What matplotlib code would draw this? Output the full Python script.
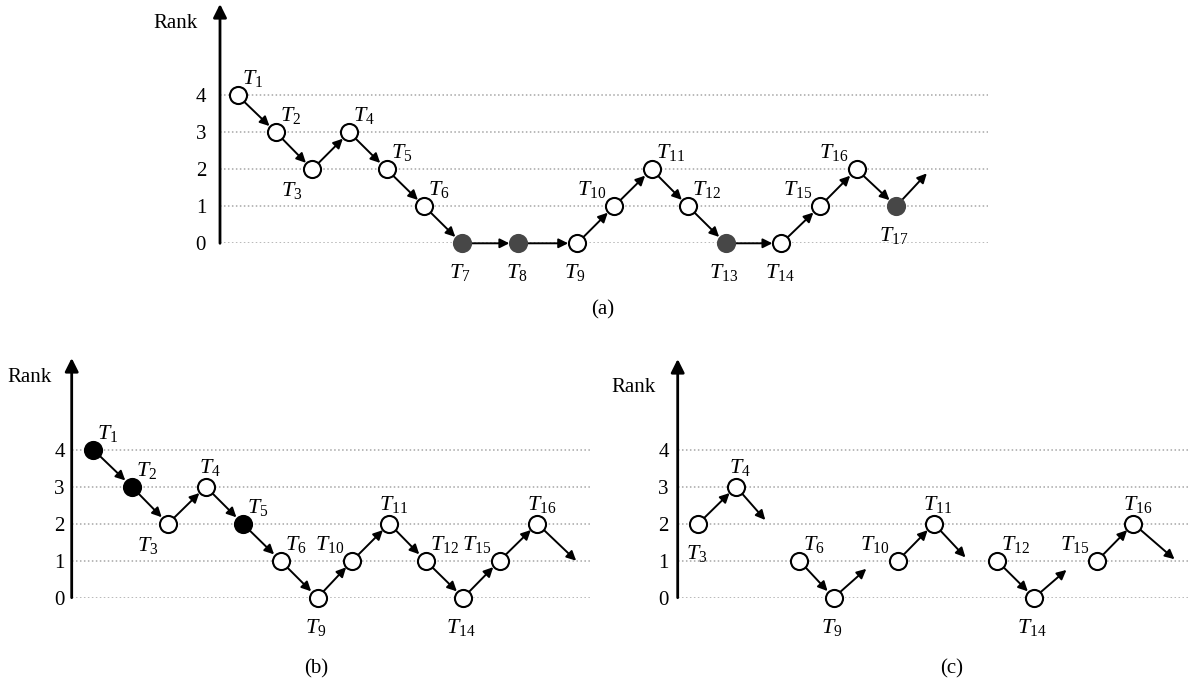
import matplotlib
matplotlib.use('Agg')
import matplotlib.pyplot as plt

# Fuente tipo Times para todo el texto
plt.rcParams['font.family'] = 'Liberation Serif'
plt.rcParams['mathtext.fontset'] = 'custom'
plt.rcParams['mathtext.rm'] = 'Liberation Serif'
plt.rcParams['mathtext.it'] = 'Liberation Serif:italic'

# ---- datos ----
rank_ticks = [0, 1, 2, 3, 4]

# (a) secuencia completa
a_ids = [1, 2, 3, 4, 5, 6, 7, 8, 9, 10, 11, 12, 13, 14, 15, 16, 17]
a_x = [0, 1.04, 2.02, 3.02, 4.03, 5.05, 6.06, 7.59, 9.18, 10.18, 11.19,
       12.18, 13.19, 14.7, 15.74, 16.73, 17.8]
a_rank = [4, 3, 2, 3, 2, 1, 0, 0, 0, 1, 2, 1, 0, 0, 1, 2, 1]
a_filled = [7, 8, 13, 17]
a_where = ['ur', 'ur', 'll', 'ur', 'ur', 'ur', 'b', 'b', 'b', 'ul', 'ur',
           'ur', 'b', 'b', 'ul', 'ul', 'b']
a_tail = (18.63, 1.89)

# (b) sin los nodos a rango 0 repetidos
b_ids = [1, 2, 3, 4, 5, 6, 9, 10, 11, 12, 14, 15, 16]
b_x = [0, 1.04, 2.02, 3.04, 4.04, 5.06, 6.06, 7.0, 8.0, 8.98, 10.0, 10.98, 12.0]
b_rank = [4, 3, 2, 3, 2, 1, 0, 1, 2, 1, 0, 1, 2]
b_filled = [1, 2, 5]
b_where = ['ur', 'ur', 'll', 'u', 'ur', 'ur', 'b', 'ul', 'u', 'ur', 'b', 'ul', 'u']
b_tail = (13.05, 1.0)

# (c) pares sueltos
c_ids = [[3, 4], [6, 9], [10, 11], [12, 14], [15, 16]]
c_x = [[0, 1.02], [2.73, 3.66], [5.39, 6.37], [8.07, 9.08], [10.78, 11.76]]
c_rank = [[2, 3], [1, 0], [1, 2], [1, 0], [1, 2]]
c_where = [['b', 'u'], ['ur', 'b'], ['ul', 'u'], ['ur', 'b'], ['ul', 'u']]
c_tail = [(1.81, 2.1), (4.54, 0.78), (7.22, 1.09), (9.95, 0.75), (12.87, 1.04)]

W, H = 1190, 680
STEP = 37.0  # pixeles por unidad
PX = 0.72    # puntos por pixel

fig = plt.figure(figsize=(W / 100, H / 100), dpi=100)

# desplazamientos de etiquetas (px) y alineacion
label_pos = {
    'ur': (4, 6, 'left', 'bottom'),
    'u': (4, 9, 'center', 'bottom'),
    'ul': (-8, 6, 'right', 'bottom'),
    'll': (-10, -11, 'right', 'top'),
    'b': (-2, -19, 'center', 'top'),
}


def make_panel(left, right, top, zero, origin, pad):
    ax = fig.add_axes([left / W, 1 - zero / H, (right - left) / W, (zero - top) / H])
    ax.set_xlim((left - origin) / STEP, (right - origin) / STEP)
    ax.set_ylim(0, (zero - top) / STEP)
    for s in ax.spines.values():
        s.set_visible(False)
    ax.set_xticks([])
    ax.set_yticks(rank_ticks)
    ax.set_yticklabels([str(t) for t in rank_ticks], fontsize=15)
    ax.tick_params(axis='y', length=0, pad=pad)
    x0, x1 = ax.get_xlim()
    ax.hlines(rank_ticks, x0, x1, colors='#a6a6a6', linestyles=(0, (1, 1.6)),
              linewidth=1.1, zorder=1)
    # eje vertical con flecha
    ax.annotate('', xy=(0, 1), xytext=(0, 0), xycoords='axes fraction',
                arrowprops=dict(arrowstyle='-|>', lw=2.0, color='black',
                                mutation_scale=20, shrinkA=0, shrinkB=0),
                annotation_clip=False)
    return ax


def draw_chain(ax, xs, ranks, ids, where, filled, fill_color, tail):
    pts = list(zip(xs, ranks)) + [tail]
    for i in range(len(pts) - 1):
        ax.annotate('', xy=pts[i + 1], xytext=pts[i],
                    arrowprops=dict(arrowstyle='-|>', lw=1.4, color='black',
                                    mutation_scale=14, shrinkA=6.5,
                                    shrinkB=6.5 if i < len(pts) - 2 else 0),
                    annotation_clip=False, zorder=3)
    for x, r, n, w in zip(xs, ranks, ids, where):
        if n in filled:
            ax.plot(x, r, 'o', ms=12.3, mfc=fill_color, mec=fill_color,
                    mew=1.5, zorder=5, clip_on=False)
        else:
            ax.plot(x, r, 'o', ms=12.3, mfc='white', mec='black',
                    mew=1.5, zorder=5, clip_on=False)
        dx, dy, ha, va = label_pos[w]
        ax.annotate(r'$T_{\mathrm{%d}}$' % n, xy=(x, r),
                    xytext=(dx * PX, dy * PX), textcoords='offset points',
                    ha=ha, va=va, fontsize=16, annotation_clip=False)


ax_a = make_panel(220, 988, 4, 243.3, 237.5, 10)
draw_chain(ax_a, a_x, a_rank, a_ids, a_where, a_filled, '#474747', a_tail)

ax_b = make_panel(71.7, 590, 358, 597.7, 93.3, 5)
draw_chain(ax_b, b_x, b_rank, b_ids, b_where, b_filled, 'black', b_tail)

ax_c = make_panel(677.7, 1188, 359, 597.7, 698.3, 6.5)
for xs, rs, ns, ws, t in zip(c_x, c_rank, c_ids, c_where, c_tail):
    draw_chain(ax_c, xs, rs, ns, ws, [], 'black', t)

# textos "Rank" y subtitulos
for (x, y) in [(175, 24), (30, 378), (633, 387)]:
    fig.text(x / W, 1 - y / H, 'Rank', ha='center', va='center', fontsize=15)
for (x, y, s) in [(603, 310, '(a)'), (316, 669, '(b)'), (952, 669, '(c)')]:
    fig.text(x / W, 1 - y / H, s, ha='center', va='center', fontsize=15)

fig.savefig('out.png', dpi=100)
